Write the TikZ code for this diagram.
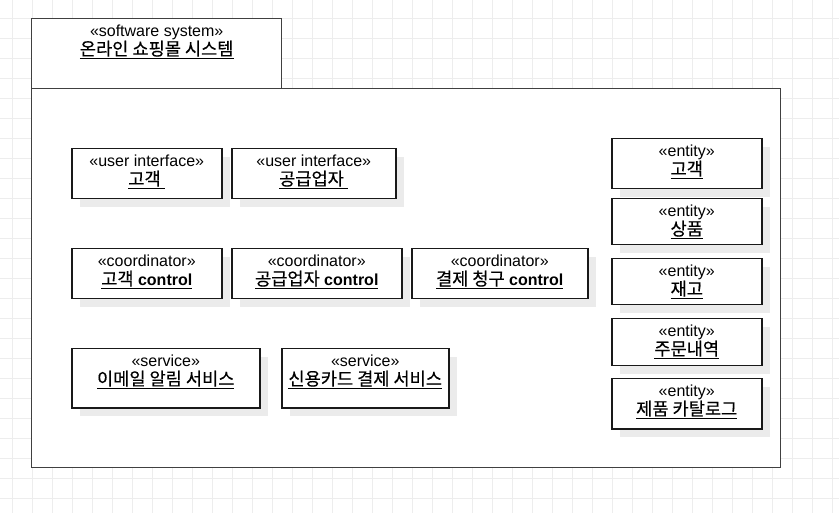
\documentclass[tikz,border=0pt]{standalone}
\usepackage{fontspec}
\setmainfont{Liberation Sans}
\newfontfamily\kr{Noto Sans CJK KR}[Scale=1.1, FakeBold=0.4]
\usepackage{tikz}
\usepackage{xcolor}
\usetikzlibrary{positioning,shadows}
\newsavebox\ulbox
\newcommand{\undl}[1]{\sbox\ulbox{#1}\rlap{\rule[-3.8pt]{\wd\ulbox}{1.3pt}}\usebox\ulbox}
\tikzset{
  gridline/.style = {draw=black!7, line width=0.6pt},
  pkg/.style  = {draw=black!75, line width=1.4pt, fill=white, rectangle, anchor=north west, inner sep=0pt},
  box/.style  = {draw=black!90, line width=1.5pt, fill=white, rectangle, anchor=north west, inner sep=0pt,
                 drop shadow={shadow xshift=8pt, shadow yshift=-8pt, fill=black!8, opacity=1}},
  txt/.style  = {align=center, inner sep=0pt, font=\fontsize{16}{19}\selectfont}
}
\begin{document}
\begin{tikzpicture}[x=1pt, y=-1pt]
\useasboundingbox (0,0) rectangle (839,513);
% background grid
\foreach \x in {12,32,...,832} \draw[gridline] (\x,0) -- (\x,513);
\foreach \y in {18,38,...,498} \draw[gridline] (0,\y) -- (839,\y);

% the package
\node[pkg, minimum width=749, minimum height=379] (sysBody) at (31,88) {};
\node[pkg, minimum width=250, minimum height=70] (sysTab) at (31,18) {};
\node[txt, below=6.5pt of sysTab.north] (sysText) {«software system»\\\undl{{\kr 온라인 쇼핑몰 시스템}}};

% user interfaces
\node[box, minimum width=150, minimum height=50] (uiCust) at (71,148) {};
\node[box, minimum width=164, minimum height=50, right=8.5pt of uiCust] (uiSupp) {};
% coordinators
\node[box, minimum width=150, minimum height=50] (coCust) at (71,248) {};
\node[box, minimum width=170, minimum height=50, right=8.5pt of coCust] (coSupp) {};
\node[box, minimum width=176, minimum height=50, right=8.5pt of coSupp] (coBill) {};
% services
\node[box, minimum width=188, minimum height=59] (svMail) at (71,348) {};
\node[box, minimum width=167, minimum height=59, right=20.5pt of svMail] (svCard) {};
% entities
\node[box, minimum width=150, minimum height=50] (enCust) at (611,138) {};
\node[box, minimum width=150, minimum height=46, below=8.5pt of enCust] (enProd) {};
\node[box, minimum width=150, minimum height=46, below=12.5pt of enProd] (enStock) {};
\node[box, minimum width=150, minimum height=47, below=12.5pt of enStock] (enOrder) {};
\node[box, minimum width=150, minimum height=50, below=11.5pt of enOrder] (enCat) {};

% texts
\node[txt, below=6.5pt of uiCust.north] (uiCustText) {«user interface»\\\undl{{\kr 고객}\ }};
\node[txt, below=6.5pt of uiSupp.north] (uiSuppText) {«user interface»\\\undl{{\kr 공급업자}\ }};
\node[txt, below=6.5pt of coCust.north] (coCustText) {«coordinator»\\\undl{{\kr 고객} \textbf{control}}};
\node[txt, below=6.5pt of coSupp.north] (coSuppText) {«coordinator»\\\undl{{\kr 공급업자} \textbf{control}}};
\node[txt, below=6.5pt of coBill.north] (coBillText) {«coordinator»\\\undl{{\kr 결제 청구} \textbf{control}}};
\node[txt, below=6.5pt of svMail.north] (svMailText) {«service»\\\undl{{\kr 이메일 알림 서비스}}};
\node[txt, below=6.5pt of svCard.north] (svCardText) {«service»\\\undl{{\kr 신용카드 결제 서비스}}};
\node[txt, below=6.5pt of enCust.north] (enCustText) {«entity»\\\undl{{\kr 고객}}};
\node[txt, below=6.5pt of enProd.north] (enProdText) {«entity»\\\undl{{\kr 상품}}};
\node[txt, below=6.5pt of enStock.north] (enStockText) {«entity»\\\undl{{\kr 재고}}};
\node[txt, below=6.5pt of enOrder.north] (enOrderText) {«entity»\\\undl{{\kr 주문내역}}};
\node[txt, below=6.5pt of enCat.north] (enCatText) {«entity»\\\undl{{\kr 제품 카탈로그}}};
\end{tikzpicture}
\end{document}
